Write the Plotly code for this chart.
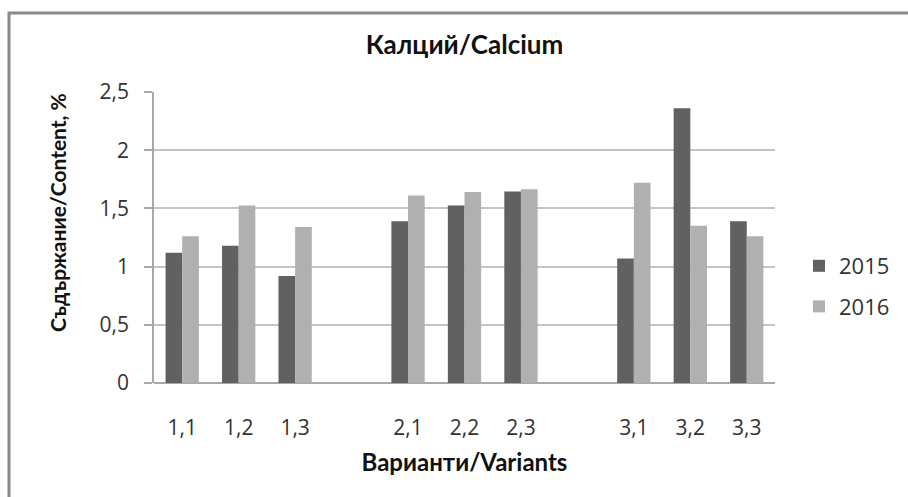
import plotly.graph_objects as go

categories = ["1,1", "1,2", "1,3", " ", "2,1", "2,2", "2,3", "  ", "3,1", "3,2", "3,3"]
values_2015 = [1.12, 1.18, 0.92, None, 1.39, 1.525, 1.645, None, 1.07, 2.36, 1.39]
values_2016 = [1.26, 1.525, 1.34, None, 1.61, 1.64, 1.665, None, 1.72, 1.35, 1.26]
y_ticks = [0, 0.5, 1, 1.5, 2, 2.5]
y_tick_labels = ["0", "0,5", "1", "1,5", "2", "2,5"]

W, H = 908, 497
L, R, T, B = 154, 133, 92, 114
pw, ph = W - L - R, H - T - B

def px_x(x):
    return (x - L) / pw

def px_y(y):
    return (H - B - y) / ph

tick_font = dict(family="Open Sans, DejaVu Sans, sans-serif", size=21, color="#333333")
bold_font = "Lato, Open Sans, sans-serif"

fig = go.Figure()
fig.add_trace(go.Bar(x=categories, y=values_2015, name="2015", marker_color="#616161",
                     marker_line_width=0, legendgroup="a"))
fig.add_trace(go.Bar(x=categories, y=values_2016, name="2016", marker_color="#b0b0b0",
                     marker_line_width=0, legendgroup="b"))

fig.update_layout(
    width=W, height=H,
    margin=dict(l=L, r=R, t=T, b=B, autoexpand=False),
    paper_bgcolor="white", plot_bgcolor="white",
    barmode="group", bargap=0.41, bargroupgap=0,
    showlegend=True,
    legend=dict(x=px_x(799), y=px_y(245), xanchor="left", yanchor="top",
                font=dict(family="Open Sans, DejaVu Sans, sans-serif", size=22, color="#333333"),
                tracegroupgap=9, itemwidth=30, bgcolor="rgba(0,0,0,0)"),
    xaxis=dict(type="category", categoryorder="array", categoryarray=categories,
               showgrid=False, showline=False, ticks="", tickfont=tick_font,
               ticklabelstandoff=30, zeroline=False, automargin=False,
               title=dict(text="<b>Варианти/Variants</b>",
                          font=dict(family=bold_font, size=24, color="#111111"),
                          standoff=14)),
    yaxis=dict(range=[0, 2.5], tickvals=y_ticks, ticktext=y_tick_labels,
               showgrid=True, gridcolor="#c4c4c4", gridwidth=1.5,
               showline=True, linecolor="#a8a8a8", linewidth=1.5,
               ticks="outside", ticklen=8, tickcolor="#a8a8a8", tickwidth=1.5,
               ticklabelstandoff=11, tickfont=tick_font, zeroline=True,
               zerolinecolor="#a8a8a8", zerolinewidth=1.5, automargin=False),
    title=dict(text="<b>Калций/Calcium</b>", x=0.5, xref="paper", xanchor="center",
               y=1 - 45 / H, yref="container", yanchor="middle",
               font=dict(family=bold_font, size=26, color="#111111")),
)

fig.add_annotation(text="<b>Съдържание/Content, %</b>", textangle=-90,
                   xref="paper", yref="paper", x=px_x(57), y=px_y(213),
                   xanchor="center", yanchor="middle", showarrow=False,
                   font=dict(family=bold_font, size=21, color="#111111"))

fig.add_shape(type="rect", xref="paper", yref="paper",
              x0=px_x(9), x1=px_x(930), y0=px_y(520), y1=px_y(13),
              line=dict(color="#8a8a8a", width=3), fillcolor="rgba(0,0,0,0)", layer="below")

fig.write_html("out.html")
